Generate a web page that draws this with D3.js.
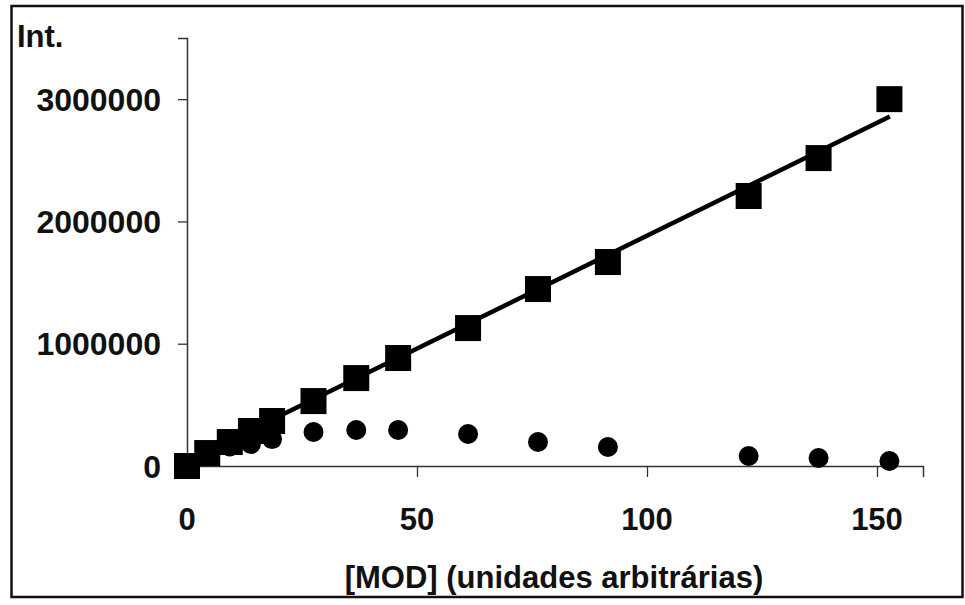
<!DOCTYPE html>
<html>
<head>
<meta charset="utf-8">
<script src="https://cdn.jsdelivr.net/npm/d3@7"></script>
<style>
  html, body { margin: 0; padding: 0; background: #fff; }
  svg { display: block; }
  text { font-family: "Liberation Sans", Arial, Helvetica, sans-serif; font-weight: bold; fill: #111; }
</style>
</head>
<body>
<svg id="chart" width="965" height="605"></svg>
<script>
// ---- data ----
const modX      = [0, 4.4, 9.3, 13.9, 18.5, 27.5, 36.8, 45.9, 61.1, 76.3, 91.5, 122.1, 137.3, 152.7];
const squareInt = [0, 106000, 196000, 286000, 368000, 531000, 719000, 883000, 1128000, 1447000, 1668000, 2208000, 2518000, 3000000];
const circleInt = [0, 80000, 160000, 180000, 220000, 278000, 294000, 294000, 262000, 196000, 155000, 82000, 65000, 41000];
const trendX    = [0, 152.8];
const trendInt  = [37000, 2858000];
const xTicks    = [0, 50, 100, 150];
const yTicks    = [0, 1000000, 2000000, 3000000];
const yTitle    = "Int.";
const xTitle    = "[MOD] (unidades arbitrárias)";

const svg = d3.select("#chart");

// frame
svg.append("rect")
  .attr("x", 11.5).attr("y", 6).attr("width", 951).attr("height", 591)
  .attr("fill", "none").attr("stroke", "#111").attr("stroke-width", 2.5);

const x = d3.scaleLinear().domain([0, 160]).range([187, 923]);
const y = d3.scaleLinear().domain([0, 3500000]).range([466, 38]);

// axes
const xAxis = d3.axisBottom(x).tickValues(xTicks).tickSize(11).tickFormat("");
const gx = svg.append("g").attr("transform", `translate(0,${y(0)})`).call(xAxis);
const yAxis = d3.axisLeft(y).tickValues(yTicks).tickSize(9).tickFormat("");
const gy = svg.append("g").attr("transform", `translate(${x(0)},0)`).call(yAxis);
[gx, gy].forEach(g => {
  g.selectAll("path.domain").attr("stroke", "#333").attr("stroke-width", 1.5);
  g.selectAll(".tick line").attr("stroke", "#333").attr("stroke-width", 1.3);
});

// tick labels
svg.append("g").selectAll("text").data(yTicks).join("text")
  .attr("x", 161).attr("y", d => y(d)).attr("dy", "0.36em")
  .attr("text-anchor", "end").style("font-size", "32px")
  .text(d => d3.format("d")(d));

svg.append("g").selectAll("text").data(xTicks).join("text")
  .attr("x", d => x(d)).attr("y", 530)
  .attr("text-anchor", "middle").style("font-size", "31px")
  .text(d => d);

// titles
svg.append("text").attr("x", 17).attr("y", 47).style("font-size", "31px").text(yTitle);
svg.append("text").attr("x", 554).attr("y", 588).attr("text-anchor", "middle")
  .style("font-size", "31px").text(xTitle);

// circles (behind)
const pts = modX.map((m, i) => ({ m, s: squareInt[i], c: circleInt[i] }));
svg.append("g").selectAll("circle").data(pts).join("circle")
  .attr("cx", d => x(d.m)).attr("cy", d => y(d.c)).attr("r", 10)
  .attr("fill", "#000");

// trend line
const line = d3.line().x(d => x(d[0])).y(d => y(d[1]));
svg.append("path").datum(trendX.map((v, i) => [v, trendInt[i]]))
  .attr("d", line).attr("fill", "none").attr("stroke", "#000").attr("stroke-width", 4.5);

// squares
const sq = 26;
svg.append("g").selectAll("rect").data(pts).join("rect")
  .attr("x", d => x(d.m) - sq / 2).attr("y", d => y(d.s) - sq / 2)
  .attr("width", sq).attr("height", sq).attr("fill", "#000");
</script>
</body>
</html>
